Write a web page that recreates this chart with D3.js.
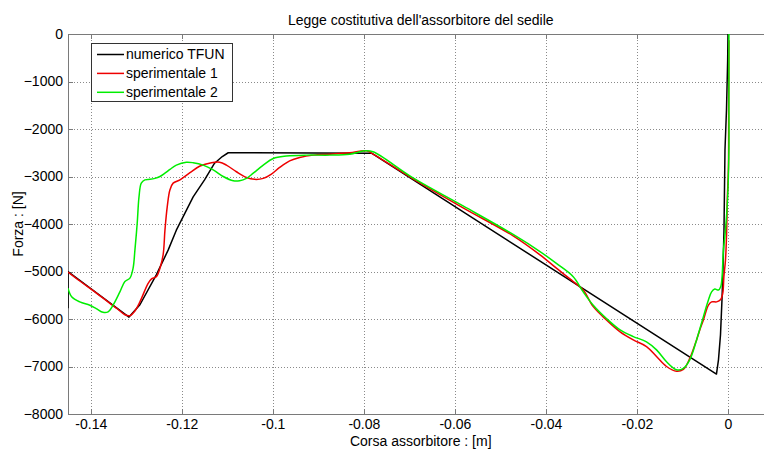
<!DOCTYPE html>
<html>
<head>
<meta charset="utf-8">
<script src="https://d3js.org/d3.v7.min.js"></script>
<style>
body { margin: 0; background: #fff; }
svg { display: block; font-family: "Liberation Sans", Arial, sans-serif; }
.grid line { stroke: #8a8a8a; stroke-dasharray: 1,2; shape-rendering: crispEdges; }
.axis path, .axis line { stroke: #7a7a7a; shape-rendering: crispEdges; }
.axis text { font-size: 14px; fill: #000; }
</style>
</head>
<body>
<div id="chart"></div>
<script>
"use strict";

// labels
var title = "Legge costitutiva dell'assorbitore del sedile";
var xLabel = "Corsa assorbitore : [m]";
var yLabel = "Forza : [N]";
var seriesNames = ["numerico TFUN", "sperimentale 1", "sperimentale 2"];

var xTicks = [-0.14, -0.12, -0.1, -0.08, -0.06, -0.04, -0.02, 0];
var xTickLabels = ["-0.14", "-0.12", "-0.1", "-0.08", "-0.06", "-0.04", "-0.02", "0"];
var yTicks = [0, -1000, -2000, -3000, -4000, -5000, -6000, -7000, -8000];

// [corsa (m), forza (N)]
var numerico = [
    [0, 0], [-0.00007, -550], [-0.00033, -1600], [-0.00066, -2440],
    [-0.00088, -4130], [-0.0011, -4970], [-0.00132, -5600], [-0.00165, -6340],
    [-0.00209, -6860], [-0.00253, -7160], [-0.0783, -2510], [-0.1098, -2500],
    [-0.1111, -2580], [-0.1128, -2720], [-0.115, -3070], [-0.1175, -3430],
    [-0.1212, -4130], [-0.123, -4550], [-0.1256, -5070], [-0.1292, -5700],
    [-0.1316, -5960], [-0.145, -5000], [-0.145, -5775]
];

var sperimentale1 = [
    [0.0002, -130], [0.00015, -1390], [0.0001, -2800], [-0.00015, -3490],
    [-0.0003, -4190], [-0.00055, -4760], [-0.0009, -5110], [-0.00115, -5460],
    [-0.0016, -5590], [-0.0025, -5640], [-0.0036, -5640], [-0.0043, -5710],
    [-0.0054, -6020], [-0.0062, -6230], [-0.0069, -6440], [-0.0084, -6830],
    [-0.0098, -7060], [-0.0113, -7100], [-0.0135, -7000], [-0.0157, -6790],
    [-0.0179, -6580], [-0.0208, -6440], [-0.0237, -6270], [-0.0267, -6020],
    [-0.0296, -5740], [-0.0318, -5390], [-0.034, -5210], [-0.0377, -4930],
    [-0.0413, -4650], [-0.0472, -4250], [-0.0582, -3660], [-0.0692, -3050],
    [-0.0776, -2550], [-0.0794, -2460], [-0.0831, -2500], [-0.0875, -2530],
    [-0.0911, -2550], [-0.0941, -2600], [-0.0963, -2670], [-0.0985, -2810],
    [-0.1003, -2950], [-0.1021, -3040], [-0.104, -3060], [-0.1058, -3020],
    [-0.108, -2900], [-0.1102, -2760], [-0.1117, -2700], [-0.1135, -2710],
    [-0.116, -2780], [-0.1182, -2920], [-0.1204, -3070], [-0.1219, -3140],
    [-0.1226, -3280], [-0.1232, -3640], [-0.1237, -4130], [-0.1241, -4650],
    [-0.1248, -4930], [-0.1256, -5110], [-0.1267, -5160], [-0.1274, -5250],
    [-0.1292, -5640], [-0.1303, -5830], [-0.1314, -5930], [-0.1325, -5910],
    [-0.1341, -5790], [-0.1358, -5670], [-0.1391, -5430], [-0.1424, -5200],
    [-0.145, -5010]
];

var sperimentale2 = [
    [0.0002, 0], [0.0002, -1390], [0.0002, -2440], [-0.0001, -3490],
    [-0.00055, -4130], [-0.001, -4550], [-0.00115, -4830], [-0.0013, -5110],
    [-0.0016, -5320], [-0.0021, -5390], [-0.0029, -5370], [-0.0036, -5430],
    [-0.0043, -5600], [-0.0054, -5950], [-0.0069, -6440], [-0.0084, -6860],
    [-0.0098, -7040], [-0.0113, -7070], [-0.0135, -6900], [-0.0157, -6650],
    [-0.0179, -6480], [-0.0208, -6370], [-0.0237, -6230], [-0.0267, -5990],
    [-0.0296, -5710], [-0.0318, -5430], [-0.034, -5110], [-0.0377, -4830],
    [-0.0413, -4580], [-0.0472, -4220], [-0.0582, -3620], [-0.0692, -3030],
    [-0.078, -2480], [-0.0798, -2460], [-0.0831, -2530], [-0.0875, -2550],
    [-0.0926, -2550], [-0.097, -2570], [-0.0999, -2620], [-0.1021, -2760],
    [-0.1043, -2930], [-0.1058, -3040], [-0.1073, -3090], [-0.1087, -3090],
    [-0.1109, -3000], [-0.1131, -2860], [-0.1153, -2760], [-0.1175, -2710],
    [-0.119, -2700], [-0.1212, -2760], [-0.1226, -2850], [-0.1237, -2930],
    [-0.1248, -3000], [-0.1259, -3040], [-0.127, -3060], [-0.1281, -3070],
    [-0.1289, -3140], [-0.1294, -3430], [-0.1298, -3990], [-0.1303, -4550],
    [-0.1307, -4930], [-0.1314, -5140], [-0.1325, -5210], [-0.1336, -5430],
    [-0.1351, -5710], [-0.1362, -5850], [-0.1373, -5860], [-0.1388, -5780],
    [-0.1402, -5710], [-0.1424, -5640], [-0.1442, -5530], [-0.145, -5350]
];

var colors = ["#000000", "#ee0000", "#00ee00"];

// plot box (right side of the figure is cut off by the image edge)
var margin = {top: 34, left: 68};
var width = 705.5;
var height = 380;

var svg = d3.select("#chart").append("svg")
    .attr("width", 764)
    .attr("height", 449);

var g = svg.append("g")
    .attr("transform", "translate(" + margin.left + "," + margin.top + ")");

var x = d3.scaleLinear().domain([-0.145, 0.01]).range([0, width]);
var y = d3.scaleLinear().domain([-8000, 0]).range([height, 0]);

// dotted grid
var grid = g.append("g").attr("class", "grid");
grid.selectAll("line.v").data(xTicks).enter().append("line")
    .attr("class", "v")
    .attr("x1", function(d) { return Math.round(x(d)) + 0.5; })
    .attr("x2", function(d) { return Math.round(x(d)) + 0.5; })
    .attr("y1", 0)
    .attr("y2", height);
grid.selectAll("line.h").data(yTicks).enter().append("line")
    .attr("class", "h")
    .attr("x1", 0)
    .attr("x2", width)
    .attr("y1", function(d) { return Math.round(y(d)) + 0.5; })
    .attr("y2", function(d) { return Math.round(y(d)) + 0.5; });

// axes with inside ticks, like matlab
g.append("g")
    .attr("class", "x axis")
    .attr("transform", "translate(0," + height + ")")
    .call(d3.axisBottom(x).tickValues(xTicks)
        .tickFormat(function(d, i) { return xTickLabels[i]; })
        .tickSizeInner(-5).tickSizeOuter(0).tickPadding(5));

g.append("g")
    .attr("class", "x axis top")
    .call(d3.axisTop(x).tickValues(xTicks).tickFormat("")
        .tickSizeInner(-5).tickSizeOuter(0));

g.append("g")
    .attr("class", "y axis")
    .call(d3.axisLeft(y).tickValues(yTicks)
        .tickFormat(d3.format("d"))
        .tickSizeInner(-5).tickSizeOuter(0).tickPadding(5));

g.selectAll(".axis text").style("font-family", "'Liberation Sans', Arial, sans-serif");

// curves, clipped to the data region
g.append("defs").append("clipPath")
    .attr("id", "dataPane")
    .append("rect")
    .attr("x", 0)
    .attr("y", -1)
    .attr("width", width)
    .attr("height", height + 2);

var pane = g.append("g").attr("clip-path", "url(#dataPane)");

var straight = d3.line()
    .x(function(d) { return x(d[0]); })
    .y(function(d) { return y(d[1]); });

var smooth = d3.line()
    .curve(d3.curveCatmullRom.alpha(0.5))
    .x(function(d) { return x(d[0]); })
    .y(function(d) { return y(d[1]); });

[numerico, sperimentale1, sperimentale2].forEach(function(s, i) {
    pane.append("path")
        .datum(s)
        .attr("fill", "none")
        .attr("stroke", colors[i])
        .attr("stroke-width", 1.5)
        .attr("stroke-linejoin", "round")
        .attr("d", i === 0 ? straight : smooth);
});

// title and axis labels
svg.append("text")
    .attr("x", margin.left + width / 2)
    .attr("y", 20)
    .attr("dy", "0.35em")
    .attr("text-anchor", "middle")
    .style("font-size", "14px")
    .text(title);

svg.append("text")
    .attr("x", margin.left + width / 2)
    .attr("y", 441)
    .attr("dy", "0.35em")
    .attr("text-anchor", "middle")
    .style("font-size", "14px")
    .text(xLabel);

svg.append("text")
    .attr("transform", "translate(18," + (margin.top + height / 2) + ") rotate(-90)")
    .attr("dy", "0.35em")
    .attr("text-anchor", "middle")
    .style("font-size", "14px")
    .text(yLabel);

// legend
var legend = svg.append("g").attr("transform", "translate(91,43)");
legend.append("rect")
    .attr("x", 0.5)
    .attr("y", 0.5)
    .attr("width", 141)
    .attr("height", 58)
    .attr("fill", "#fff")
    .attr("stroke", "#333");

var rows = legend.selectAll("g.row").data(seriesNames).enter().append("g")
    .attr("class", "row")
    .attr("transform", function(d, i) { return "translate(0," + (11.5 + i * 18.9) + ")"; });
rows.append("line")
    .attr("x1", 6)
    .attr("x2", 33)
    .attr("stroke", function(d, i) { return colors[i]; })
    .attr("stroke-width", 1.5);
rows.append("text")
    .attr("x", 35)
    .attr("dy", "0.35em")
    .style("font-size", "14px")
    .text(function(d) { return d; });
</script>
</body>
</html>
